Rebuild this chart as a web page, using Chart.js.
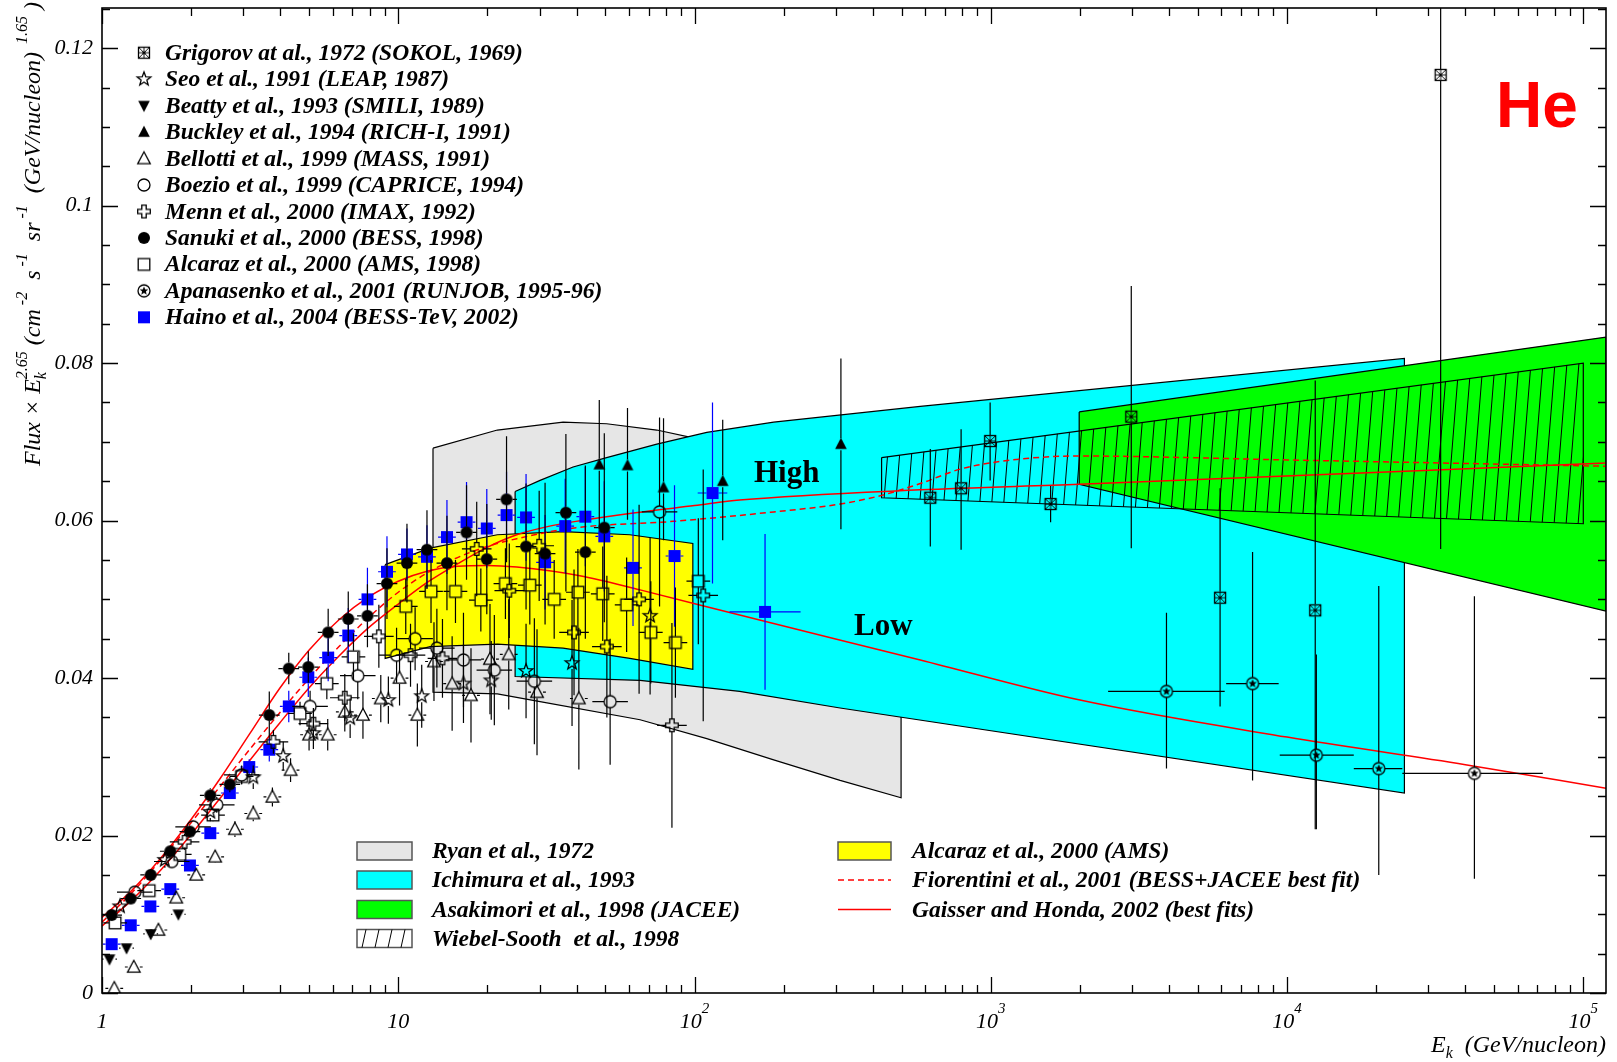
<!DOCTYPE html>
<html>
<head>
<meta charset="utf-8">
<script src="https://cdn.jsdelivr.net/npm/chart.js@4.4.0/dist/chart.umd.min.js"></script>
<style>
  html, body { margin: 0; padding: 0; background: #fff; }
  #wrap { width: 1617px; height: 1062px; }
</style>
</head>
<body>
<div id="wrap"><canvas id="c" width="1617" height="1062"></canvas></div>
<script>
// Energies in GeV/nucleon, values are Flux x E^2.65

// Grigorov et al. 1972 (SOKOL)
const grigorovE  = [625, 794, 995, 1592, 2980, 5943, 12450, 33000]
const grigorovF  = [0.0629, 0.0641, 0.0701, 0.0621, 0.0732, 0.0502, 0.0486, 0.1166]
const grigorovLo = [0.0567, 0.0563, 0.0651, 0.0598, 0.0565, 0.0364, 0.0208, 0.0564]
const grigorovHi = [0.0691, 0.0716, 0.0750, 0.0644, 0.0898, 0.0641, 0.0778, 0.1400]

// Seo et al. 1991 (LEAP)
const seoE   = [1.15, 1.63, 2.32, 3.24, 4.09, 5.17, 6.88, 9.26, 12.0, 16.6, 20.6, 27.0, 38.6, 70.8]
const seoF   = [0.0110, 0.0169, 0.0230, 0.0274, 0.0301, 0.0330, 0.0349, 0.0372, 0.0377, 0.0393, 0.0397, 0.0409, 0.0419, 0.0479]
const seoErr = [0.0008, 0.001, 0.0012, 0.0015, 0.0018, 0.002, 0.0025, 0.003, 0.004, 0.005, 0.005, 0.006, 0.008, 0.010]

// Beatty et al. 1993 (SMILI)
const beattyE   = [1.06, 1.21, 1.46, 1.81]
const beattyF   = [0.0043, 0.0057, 0.0075, 0.0100]
const beattyErr = [0.0005, 0.0005, 0.0006, 0.0007]

// Buckley et al. 1994 (RICH-I)
const buckleyE  = [47.7, 59.4, 78.6, 124.5, 312]
const buckleyF  = [0.0671, 0.0670, 0.0642, 0.0650, 0.0697]
const buckleyLo = [0.0590, 0.0601, 0.0575, 0.0575, 0.0589]
const buckleyHi = [0.0753, 0.0743, 0.0730, 0.0728, 0.0806]

// Bellotti et al. 1999 (MASS)
const bellottiE   = [1.10, 1.28, 1.55, 1.78, 2.08, 2.41, 2.81, 3.24, 3.76, 4.33, 5.0, 5.78, 6.6, 7.6, 8.73, 10.1, 11.6, 13.2, 15.2, 17.6, 20.4, 23.6, 29.4, 40.7]
const bellottiF   = [0.0006, 0.0033, 0.0080, 0.0121, 0.0150, 0.0173, 0.0208, 0.0228, 0.0249, 0.0283, 0.0328, 0.0328, 0.0357, 0.0353, 0.0374, 0.0400, 0.0353, 0.0421, 0.0393, 0.0378, 0.0424, 0.0430, 0.0382, 0.0374]
const bellottiErr = [0.0003, 0.0004, 0.0005, 0.0006, 0.0007, 0.0008, 0.001, 0.001, 0.0012, 0.0015, 0.002, 0.002, 0.0025, 0.003, 0.003, 0.0035, 0.004, 0.005, 0.006, 0.006, 0.007, 0.007, 0.008, 0.009]

// Boezio et al. 1999 (CAPRICE)
const boezioE   = [1.29, 1.72, 2.03, 2.44, 2.96, 5.04, 7.30, 9.87, 11.4, 13.5, 16.6, 21.1, 28.8, 51.9, 76.2]
const boezioF   = [0.0128, 0.0167, 0.0211, 0.0239, 0.0277, 0.0364, 0.0403, 0.0429, 0.0450, 0.0438, 0.0423, 0.0410, 0.0396, 0.0370, 0.0611]
const boezioErr = [0.0005, 0.0006, 0.0008, 0.001, 0.0012, 0.002, 0.003, 0.0035, 0.004, 0.005, 0.006, 0.007, 0.008, 0.008, 0.012]

// Menn et al. 2000 (IMAX)
const mennE   = [1.90, 3.79, 5.17, 6.6, 8.6, 11.0, 14.1, 18.4, 23.7, 29.9, 39.2, 50.6, 65, 83.9, 107]
const mennF   = [0.0192, 0.0319, 0.0342, 0.0375, 0.0453, 0.0429, 0.0425, 0.0564, 0.0511, 0.0568, 0.0458, 0.0440, 0.0500, 0.0340, 0.0505]
const mennErr = [0.001, 0.0015, 0.002, 0.003, 0.004, 0.004, 0.005, 0.006, 0.006, 0.007, 0.008, 0.009, 0.012, 0.013, 0.016]

// Sanuki et al. 2000 (BESS)
const sanukiE   = [1.078, 1.25, 1.46, 1.70, 1.98, 2.32, 2.70, 3.67, 4.27, 4.97, 5.8, 6.78, 7.87, 9.16, 10.7, 12.5, 14.6, 17.0, 19.9, 23.2, 27.0, 31.3, 36.8, 42.8, 49.6]
const sanukiF   = [0.0099, 0.0120, 0.0150, 0.0180, 0.0205, 0.0251, 0.0265, 0.0353, 0.0412, 0.0414, 0.0458, 0.0475, 0.0479, 0.0520, 0.0546, 0.0563, 0.0546, 0.0585, 0.0551, 0.0627, 0.0567, 0.0558, 0.0610, 0.0560, 0.0591]
const sanukiErr = [0.0003, 0.0004, 0.0005, 0.0006, 0.0007, 0.0009, 0.001, 0.003, 0.002, 0.002, 0.003, 0.0035, 0.004, 0.0045, 0.005, 0.005, 0.006, 0.006, 0.007, 0.008, 0.008, 0.009, 0.010, 0.011, 0.012]

// Alcaraz et al. 2000 (AMS)
const amsE   = [1.107, 1.443, 1.83, 2.37, 2.96, 4.66, 5.74, 7.06, 10.6, 12.9, 15.6, 19.0, 23.0, 27.8, 33.6, 40.4, 49.0, 59.0, 71.2, 86.2, 103]
const amsF   = [0.0089, 0.0130, 0.0176, 0.0226, 0.0275, 0.0355, 0.0393, 0.0427, 0.0491, 0.0510, 0.0510, 0.0499, 0.0520, 0.0518, 0.0500, 0.0509, 0.0507, 0.0493, 0.0458, 0.0445, 0.0523]
const amsErr = [0.0004, 0.0005, 0.0006, 0.0008, 0.001, 0.0015, 0.002, 0.003, 0.0035, 0.004, 0.004, 0.004, 0.0045, 0.005, 0.005, 0.0055, 0.006, 0.006, 0.0065, 0.007, 0.008]

// Apanasenko et al. 2001 (RUNJOB)
const runjobE    = [3918, 7650, 12560, 20400, 42900]
const runjobF    = [0.0383, 0.0393, 0.0302, 0.0285, 0.0279]
const runjobLo   = [0.0285, 0.0270, 0.0208, 0.0150, 0.0145]
const runjobHi   = [0.0483, 0.0560, 0.0430, 0.0517, 0.0504]
const runjobEMin = [2489, 6230, 9450, 16800, 24500]
const runjobEMax = [6160, 9370, 16800, 24500, 73000]

// Haino et al. 2004 (BESS-TeV)
const hainoE   = [1.078, 1.25, 1.456, 1.70, 1.98, 2.32, 2.70, 3.14, 3.67, 4.27, 4.97, 5.80, 6.78, 7.87, 9.16, 10.7, 12.5, 14.6, 17.0, 19.9, 23.2, 27.0, 31.3, 36.6, 42.8, 49.6, 62.0, 85.6, 115, 173]
const hainoF   = [0.0062, 0.0086, 0.0110, 0.0132, 0.0162, 0.0203, 0.0254, 0.0287, 0.0309, 0.0364, 0.0401, 0.0426, 0.0454, 0.0500, 0.0535, 0.0557, 0.0554, 0.0579, 0.0598, 0.0590, 0.0607, 0.0604, 0.0547, 0.0593, 0.0605, 0.0580, 0.0540, 0.0555, 0.0635, 0.0484]
const hainoErr = [0.0002, 0.0003, 0.0004, 0.0004, 0.0005, 0.0006, 0.0007, 0.001, 0.0015, 0.002, 0.0025, 0.003, 0.0035, 0.004, 0.0045, 0.0033, 0.004, 0.0047, 0.0051, 0.005, 0.0055, 0.0055, 0.006, 0.006, 0.0063, 0.007, 0.0074, 0.009, 0.0115, 0.0099]
const hainoDex = [0.03, 0.03, 0.03, 0.03, 0.03, 0.03, 0.03, 0.03, 0.03, 0.03, 0.03, 0.03, 0.03, 0.03, 0.03, 0.03, 0.03, 0.03, 0.03, 0.03, 0.03, 0.03, 0.03, 0.03, 0.03, 0.03, 0.03, 0.03, 0.05, 0.12]

// bands: upper and lower edges
const ryanTopE = [13.1, 21.6, 36, 50.5, 74.6, 101.7, 200, 498]
const ryanTopF = [0.0692, 0.0715, 0.0725, 0.0723, 0.0715, 0.0704, 0.0690, 0.0660]
const ryanBotE = [13.1, 21.6, 30.1, 65.5, 110, 185, 310, 498]
const ryanBotF = [0.0382, 0.0380, 0.0370, 0.0347, 0.0323, 0.0296, 0.0270, 0.0248]

const ichimuraTopE = [24.8, 30.1, 38.9, 50.5, 74.6, 110, 185, 578, 24900]
const ichimuraTopF = [0.0637, 0.0651, 0.0668, 0.0680, 0.0697, 0.0712, 0.0725, 0.0745, 0.0806]
const ichimuraBotE = [24.8, 65.5, 142, 310, 24900]
const ichimuraBotF = [0.0402, 0.0397, 0.0383, 0.0362, 0.0254]

const amsBandTopE = [9.03, 12.8, 21.6, 36, 60.5, 98.7]
const amsBandTopF = [0.0544, 0.0565, 0.0582, 0.0586, 0.0582, 0.0571]
const amsBandBotE = [9.03, 12.8, 21.6, 36, 60.5, 98.7]
const amsBandBotF = [0.0425, 0.0440, 0.0443, 0.0438, 0.0425, 0.0411]

const jaceeTopE = [1988, 119300]
const jaceeTopF = [0.0738, 0.0833]
const jaceeBotE = [1988, 119300]
const jaceeBotF = [0.0646, 0.0485]

const wiebelTopE = [428, 100000]
const wiebelTopF = [0.0680, 0.0800]
const wiebelBotE = [428, 100000]
const wiebelBotF = [0.0629, 0.0596]

// fits
const ghLowE = [1, 1.259, 1.585, 1.995, 2.512, 3.162, 3.981, 5.012, 6.310, 7.943, 10, 12.59, 15.85, 19.95, 25.12, 41, 65.5, 142, 578, 2000, 10000, 40000, 119300]
const ghLowF = [0.0096, 0.0130, 0.0172, 0.0220, 0.0273, 0.0330, 0.0387, 0.0436, 0.0474, 0.0503, 0.0523, 0.0536, 0.0542, 0.0543, 0.0541, 0.0530, 0.0512, 0.0480, 0.0423, 0.0372, 0.0325, 0.0290, 0.0260]
const ghHighE = [1, 1.259, 1.585, 1.995, 2.512, 3.162, 3.981, 5.012, 6.310, 7.943, 10, 12.59, 15.85, 19.95, 25.12, 31.62, 39.81, 63.1, 100, 142, 578, 1988, 119300]
const ghHighF = [0.0085, 0.0118, 0.0157, 0.0201, 0.0248, 0.0296, 0.0343, 0.0388, 0.0428, 0.0464, 0.0494, 0.0522, 0.0545, 0.0566, 0.0582, 0.0592, 0.0599, 0.0610, 0.0619, 0.0626, 0.0639, 0.0646, 0.0673]
const fiorentiniE = [1, 1.259, 1.585, 1.995, 2.512, 3.162, 3.981, 5.012, 6.310, 7.943, 10, 12.59, 15.85, 19.95, 25.12, 39.81, 84.8, 185, 310, 428, 578, 800, 1250, 2000, 10000, 119300]
const fiorentiniF = [0.0090, 0.0127, 0.0170, 0.0216, 0.0263, 0.0310, 0.0356, 0.0400, 0.0440, 0.0477, 0.0509, 0.0534, 0.0553, 0.0567, 0.0577, 0.0591, 0.0599, 0.0611, 0.0621, 0.0632, 0.0647, 0.0666, 0.0678, 0.0682, 0.0677, 0.0669]

// axes
const xMin = 1, xMax = 119300
const yMin = 0, yMax = 0.1251
const yTickValues = [0, 0.02, 0.04, 0.06, 0.08, 0.1, 0.12]
const yTickLabels = ['0', '0.02', '0.04', '0.06', '0.08', '0.1', '0.12']
const xTickValues = [1, 10, 100, 1000, 10000, 100000]
const xTickBase = ['1', '10', '10', '10', '10', '10']
const xTickExp = ['', '', '2', '3', '4', '5']

const SERIF = '"Liberation Serif", "Times New Roman", serif'

// ---------- markers ----------
function starPath(g, R, r) {
  g.beginPath()
  for (let k = 0; k < 10; k++) {
    const a = -Math.PI / 2 + k * Math.PI / 5
    const rr = k % 2 ? r : R
    g.lineTo(rr * Math.cos(a), rr * Math.sin(a))
  }
  g.closePath()
}

function makeMarker(kind) {
  const c = document.createElement('canvas')
  c.width = 20
  c.height = 20
  const g = c.getContext('2d')
  g.translate(10, 10)
  g.lineWidth = 1.3
  g.strokeStyle = '#000'
  g.fillStyle = '#000'
  const h = 5.8
  switch (kind) {
    case 'boxX':
      g.strokeRect(-5.5, -5.5, 11, 11)
      g.lineWidth = 0.9
      g.beginPath()
      g.moveTo(-5.5, -5.5); g.lineTo(5.5, 5.5); g.moveTo(5.5, -5.5); g.lineTo(-5.5, 5.5)
      g.moveTo(0, -5.5); g.lineTo(0, 5.5); g.moveTo(-5.5, 0); g.lineTo(5.5, 0)
      g.stroke()
      g.beginPath(); g.arc(0, 0, 1.6, 0, Math.PI * 2); g.fill()
      break
    case 'star':
      starPath(g, 7.2, 3); g.stroke(); break
    case 'triDown':
      g.beginPath(); g.moveTo(-h, -h * 0.8); g.lineTo(h, -h * 0.8); g.lineTo(0, h * 1.1); g.closePath(); g.fill(); break
    case 'triUp':
      g.beginPath(); g.moveTo(-h, h * 0.8); g.lineTo(h, h * 0.8); g.lineTo(0, -h * 1.1); g.closePath(); g.fill(); break
    case 'triUpOpen':
      g.beginPath(); g.moveTo(-6.3, 5.2); g.lineTo(6.3, 5.2); g.lineTo(0, -6.7); g.closePath(); g.stroke(); break
    case 'circleOpen':
      g.beginPath(); g.arc(0, 0, 6, 0, Math.PI * 2); g.stroke(); break
    case 'plusOpen':
      g.beginPath()
      g.moveTo(-2.2, -6.3); g.lineTo(2.2, -6.3); g.lineTo(2.2, -2.2); g.lineTo(6.3, -2.2); g.lineTo(6.3, 2.2); g.lineTo(2.2, 2.2)
      g.lineTo(2.2, 6.3); g.lineTo(-2.2, 6.3); g.lineTo(-2.2, 2.2); g.lineTo(-6.3, 2.2); g.lineTo(-6.3, -2.2); g.lineTo(-2.2, -2.2)
      g.closePath(); g.stroke(); break
    case 'circle':
      g.beginPath(); g.arc(0, 0, 6, 0, Math.PI * 2); g.fill(); break
    case 'square':
      g.strokeRect(-5.8, -5.8, 11.6, 11.6); break
    case 'circleStar':
      g.beginPath(); g.arc(0, 0, 6, 0, Math.PI * 2); g.stroke()
      starPath(g, 4.6, 2); g.fill(); break
    case 'squareBlue':
      g.fillStyle = '#0000ff'; g.fillRect(-6, -6, 12, 12); break
  }
  return c
}

const mainCtx = document.getElementById('c').getContext('2d')
function hatchPattern() {
  const t = document.createElement('canvas')
  t.width = 12
  t.height = 150
  const g = t.getContext('2d')
  g.strokeStyle = '#000'
  g.lineWidth = 1
  for (const off of [-12, 0, 12]) {
    g.beginPath(); g.moveTo(off, 150); g.lineTo(off + 12, 0); g.stroke()
  }
  return mainCtx.createPattern(t, 'repeat')
}

// ---------- dataset builders ----------
function points(E, F, opt) {
  return E.map((e, i) => {
    const p = { x: e, y: F[i] }
    if (opt.err) { p.yLo = F[i] - opt.err[i]; p.yHi = F[i] + opt.err[i] }
    if (opt.lo) { p.yLo = opt.lo[i]; p.yHi = opt.hi[i] }
    if (opt.dex != null) {
      const d = Array.isArray(opt.dex) ? opt.dex[i] : opt.dex
      p.xLo = e / Math.pow(10, d)
      p.xHi = e * Math.pow(10, d)
    }
    if (opt.eMin) { p.xLo = opt.eMin[i]; p.xHi = opt.eMax[i] }
    return p
  })
}

function polygon(topE, topF, botE, botF) {
  const pts = topE.map((e, i) => ({ x: e, y: topF[i] }))
  for (let i = botE.length - 1; i >= 0; i--) pts.push({ x: botE[i], y: botF[i] })
  pts.push({ x: topE[0], y: topF[0] })
  return pts
}

function bandSet(label, data, color, order) {
  return {
    label, data, order,
    showLine: true, fill: 'shape', tension: 0,
    backgroundColor: color, borderColor: '#000', borderWidth: 1.2,
    pointRadius: 0
  }
}

function curveSet(label, E, F, dashed) {
  return {
    label, order: 10,
    data: E.map((e, i) => ({ x: e, y: F[i] })),
    showLine: true, fill: false, cubicInterpolationMode: 'monotone',
    borderColor: '#ff0000', borderWidth: 1.5, borderDash: dashed ? [6, 4] : [],
    pointRadius: 0
  }
}

function pointSet(label, data, kind, barColor) {
  return {
    label, data, order: 1,
    pointStyle: makeMarker(kind), pointRadius: 6,
    errorBars: true, barColor: barColor || '#000'
  }
}

// ---------- plugins ----------
const errorBars = {
  id: 'errorBars',
  beforeDatasetDraw(chart, args) {
    const ds = chart.data.datasets[args.index]
    if (!ds.errorBars) return
    const { ctx, chartArea: a, scales: { x, y } } = chart
    const gap = 6
    ctx.save()
    ctx.beginPath()
    ctx.rect(a.left, a.top, a.right - a.left, a.bottom - a.top)
    ctx.clip()
    ctx.strokeStyle = ds.barColor
    ctx.lineWidth = 1.2
    ctx.beginPath()
    ds.data.forEach((p) => {
      const px = x.getPixelForValue(p.x)
      const py = y.getPixelForValue(p.y)
      if (p.yLo != null) {
        const top = y.getPixelForValue(p.yHi)
        const bot = y.getPixelForValue(p.yLo)
        if (top < py - gap) { ctx.moveTo(px, py - gap); ctx.lineTo(px, top) }
        if (bot > py + gap) { ctx.moveTo(px, py + gap); ctx.lineTo(px, bot) }
      }
      if (p.xLo != null) {
        const l = x.getPixelForValue(p.xLo)
        const r = x.getPixelForValue(p.xHi)
        if (l < px - gap) { ctx.moveTo(px - gap, py); ctx.lineTo(l, py) }
        if (r > px + gap) { ctx.moveTo(px + gap, py); ctx.lineTo(r, py) }
      }
    })
    ctx.stroke()
    ctx.restore()
  }
}

// parts drawn left to right; a "back" part is stacked over the previous one (sub + sup)
function layoutRich(ctx, parts) {
  let x = 0, prevX = 0, prevW = 0
  const out = []
  parts.forEach((p) => {
    ctx.font = p.font
    const w = ctx.measureText(p.t).width
    if (p.back) {
      out.push({ p, x: prevX })
      x = prevX + Math.max(prevW, w)
      prevW = Math.max(prevW, w)
    } else {
      out.push({ p, x })
      prevX = x
      prevW = w
      x += w
    }
  })
  return { out, width: x }
}

function drawRich(ctx, parts, x0, y0) {
  const { out, width } = layoutRich(ctx, parts)
  out.forEach(({ p, x }) => {
    ctx.font = p.font
    ctx.fillText(p.t, x0 + x, y0 + (p.dy || 0))
  })
  return width
}

function richWidth(ctx, parts) {
  return layoutRich(ctx, parts).width
}

const frameAxes = {
  id: 'frameAxes',
  afterDatasetsDraw(chart) {
    const { ctx, chartArea: a, scales: { x, y } } = chart
    ctx.save()
    ctx.strokeStyle = '#000'
    ctx.lineWidth = 1.3
    ctx.beginPath()
    // y ticks, left and right
    for (let k = 0; k * 0.005 <= yMax + 1e-9; k++) {
      const v = k * 0.005
      const major = k % 4 === 0
      const len = major ? 16 : 8
      const py = Math.round(y.getPixelForValue(v)) + 0.5
      ctx.moveTo(a.left, py); ctx.lineTo(a.left + len, py)
      ctx.moveTo(a.right, py); ctx.lineTo(a.right - len, py)
    }
    // x ticks, bottom and top
    for (let d = 0; d <= 5; d++) {
      for (let m = 1; m <= 9; m++) {
        const v = m * Math.pow(10, d)
        if (v > xMax) continue
        const len = m === 1 ? 16 : 8
        const px = Math.round(x.getPixelForValue(v)) + 0.5
        ctx.moveTo(px, a.bottom); ctx.lineTo(px, a.bottom - len)
        ctx.moveTo(px, a.top); ctx.lineTo(px, a.top + len)
      }
    }
    ctx.stroke()
    ctx.lineWidth = 1.6
    ctx.strokeRect(a.left, a.top, a.right - a.left, a.bottom - a.top)

    // tick labels
    ctx.fillStyle = '#000'
    ctx.textBaseline = 'middle'
    ctx.textAlign = 'right'
    ctx.font = 'italic 22px ' + SERIF
    yTickValues.forEach((v, i) => {
      ctx.fillText(yTickLabels[i], a.left - 9, y.getPixelForValue(v))
    })
    ctx.textBaseline = 'alphabetic'
    ctx.textAlign = 'left'
    xTickValues.forEach((v, i) => {
      const parts = [{ t: xTickBase[i], font: 'italic 22px ' + SERIF }]
      if (xTickExp[i]) parts.push({ t: xTickExp[i], font: 'italic 15px ' + SERIF, dy: -15 })
      const w = richWidth(ctx, parts)
      drawRich(ctx, parts, x.getPixelForValue(v) - w / 2, 1028)
    })

    // axis titles
    const xt = [
      { t: 'E', font: 'italic 24px ' + SERIF },
      { t: 'k', font: 'italic 16px ' + SERIF, dy: 6 },
      { t: '  (GeV/nucleon)', font: 'italic 24px ' + SERIF }
    ]
    drawRich(ctx, xt, a.right - richWidth(ctx, xt), 1052)

    const big = 'italic 24px ' + SERIF
    const sm = 'italic 16px ' + SERIF
    const yt = [
      { t: 'Flux \u00d7 E', font: big },
      { t: 'k', font: sm, dy: 6 },
      { t: '2.65', font: sm, dy: -13, back: true },
      { t: ' (cm', font: big },
      { t: ' -2', font: sm, dy: -13 },
      { t: '  s', font: big },
      { t: ' -1', font: sm, dy: -13 },
      { t: '  sr', font: big },
      { t: ' -1', font: sm, dy: -13 },
      { t: '  (GeV/nucleon)', font: big },
      { t: '  1.65', font: sm, dy: -13 },
      { t: ' )', font: big }
    ]
    ctx.translate(40, 466)
    ctx.rotate(-Math.PI / 2)
    drawRich(ctx, yt, 0, 0)
    ctx.restore()
  }
}

const topLegendLabels = [
  'Grigorov at al., 1972 (SOKOL, 1969)',
  'Seo et al., 1991 (LEAP, 1987)',
  'Beatty et al., 1993 (SMILI, 1989)',
  'Buckley et al., 1994 (RICH-I, 1991)',
  'Bellotti et al., 1999 (MASS, 1991)',
  'Boezio et al., 1999 (CAPRICE, 1994)',
  'Menn et al., 2000 (IMAX, 1992)',
  'Sanuki et al., 2000 (BESS, 1998)',
  'Alcaraz et al., 2000 (AMS, 1998)',
  'Apanasenko et al., 2001 (RUNJOB, 1995-96)',
  'Haino et al., 2004 (BESS-TeV, 2002)'
]
const topLegendKinds = ['boxX', 'star', 'triDown', 'triUp', 'triUpOpen', 'circleOpen', 'plusOpen', 'circle', 'square', 'circleStar', 'squareBlue']

const bandLegendLabels = ['Ryan et al., 1972', 'Ichimura et al., 1993', 'Asakimori et al., 1998 (JACEE)', 'Wiebel-Sooth  et al., 1998']
const bandLegendColors = ['#e6e6e6', '#00ffff', '#00ff00', null]
const lineLegendLabels = ['Alcaraz et al., 2000 (AMS)', 'Fiorentini et al., 2001 (BESS+JACEE best fit)', 'Gaisser and Honda, 2002 (best fits)']

const legends = {
  id: 'legends',
  afterDraw(chart) {
    const { ctx } = chart
    ctx.save()
    ctx.fillStyle = '#000'
    ctx.textBaseline = 'middle'
    ctx.font = 'bold italic 23.5px ' + SERIF
    topLegendLabels.forEach((t, i) => {
      const cy = 52.7 + i * 26.46
      const m = makeMarker(topLegendKinds[i])
      ctx.drawImage(m, 144 - 10, cy - 10, 20, 20)
      ctx.fillText(t, 165, cy + 1)
    })

    // band legend
    const rows = [851, 880, 909.5, 938.5]
    bandLegendLabels.forEach((t, i) => {
      const cy = rows[i]
      ctx.fillStyle = bandLegendColors[i] || '#fff'
      ctx.fillRect(357, cy - 9, 55, 18)
      ctx.strokeStyle = '#555'
      ctx.lineWidth = 1.5
      ctx.strokeRect(357, cy - 9, 55, 18)
      if (!bandLegendColors[i]) {
        ctx.lineWidth = 1
        ctx.strokeStyle = '#000'
        ctx.beginPath()
        for (let k = 0; k < 4; k++) {
          const bx = 362 + k * 13
          ctx.moveTo(bx, cy + 9); ctx.lineTo(bx + 4, cy - 9)
        }
        ctx.stroke()
      }
      ctx.fillStyle = '#000'
      ctx.fillText(t, 432, cy + 1)
    })
    // right column
    ctx.fillStyle = '#ffff00'
    ctx.fillRect(838, rows[0] - 9, 53, 18)
    ctx.strokeStyle = '#555'
    ctx.lineWidth = 1.5
    ctx.strokeRect(838, rows[0] - 9, 53, 18)
    ctx.strokeStyle = '#ff0000'
    ctx.lineWidth = 1.5
    ctx.setLineDash([6, 4])
    ctx.beginPath(); ctx.moveTo(838, rows[1]); ctx.lineTo(891, rows[1]); ctx.stroke()
    ctx.setLineDash([])
    ctx.beginPath(); ctx.moveTo(838, rows[2]); ctx.lineTo(891, rows[2]); ctx.stroke()
    ctx.fillStyle = '#000'
    lineLegendLabels.forEach((t, i) => ctx.fillText(t, 912, rows[i] + 1))

    // annotations
    ctx.textBaseline = 'alphabetic'
    ctx.font = 'bold 31px ' + SERIF
    ctx.fillText('High', 754, 482)
    ctx.fillText('Low', 854, 635)
    ctx.fillStyle = '#ff0000'
    ctx.font = 'bold 64px "Liberation Sans", Arial, sans-serif'
    ctx.fillText('He', 1496, 127)
    ctx.restore()
  }
}

// ---------- chart ----------
const datasets = [
  pointSet('Grigorov', points(grigorovE, grigorovF, { lo: grigorovLo, hi: grigorovHi }), 'boxX'),
  pointSet('Seo', points(seoE, seoF, { err: seoErr }), 'star'),
  pointSet('Beatty', points(beattyE, beattyF, { err: beattyErr, dex: 0.025 }), 'triDown'),
  pointSet('Buckley', points(buckleyE, buckleyF, { lo: buckleyLo, hi: buckleyHi }), 'triUp'),
  pointSet('Bellotti', points(bellottiE, bellottiF, { err: bellottiErr, dex: 0.03 }), 'triUpOpen'),
  pointSet('Boezio', points(boezioE, boezioF, { err: boezioErr, dex: 0.06 }), 'circleOpen'),
  pointSet('Menn', points(mennE, mennF, { err: mennErr, dex: 0.05 }), 'plusOpen'),
  pointSet('Sanuki', points(sanukiE, sanukiF, { err: sanukiErr, dex: 0.035 }), 'circle'),
  pointSet('Alcaraz', points(amsE, amsF, { err: amsErr, dex: 0.04 }), 'square'),
  pointSet('Apanasenko', points(runjobE, runjobF, { lo: runjobLo, hi: runjobHi, eMin: runjobEMin, eMax: runjobEMax }), 'circleStar'),
  pointSet('Haino', points(hainoE, hainoF, { err: hainoErr, dex: hainoDex }), 'squareBlue', '#0000ff'),
  curveSet('Gaisser Honda low', ghLowE, ghLowF, false),
  curveSet('Gaisser Honda high', ghHighE, ghHighF, false),
  curveSet('Fiorentini', fiorentiniE, fiorentiniF, true),
  bandSet('Wiebel-Sooth', polygon(wiebelTopE, wiebelTopF, wiebelBotE, wiebelBotF), hatchPattern(), 16),
  bandSet('Asakimori', polygon(jaceeTopE, jaceeTopF, jaceeBotE, jaceeBotF), '#00ff00', 17),
  bandSet('Alcaraz band', polygon(amsBandTopE, amsBandTopF, amsBandBotE, amsBandBotF), '#ffff00', 18),
  bandSet('Ichimura', polygon(ichimuraTopE, ichimuraTopF, ichimuraBotE, ichimuraBotF), '#00ffff', 19),
  bandSet('Ryan', polygon(ryanTopE, ryanTopF, ryanBotE, ryanBotF), '#e6e6e6', 20)
]

new Chart(document.getElementById('c'), {
  type: 'scatter',
  data: { datasets },
  options: {
    responsive: false,
    devicePixelRatio: 1,
    animation: false,
    layout: { padding: { left: 102, right: 11, top: 8, bottom: 69 } },
    plugins: {
      legend: { display: false },
      tooltip: { enabled: false }
    },
    scales: {
      x: { type: 'logarithmic', min: xMin, max: xMax, display: false },
      y: { type: 'linear', min: yMin, max: yMax, display: false }
    }
  },
  plugins: [errorBars, frameAxes, legends]
})
</script>
</body>
</html>
